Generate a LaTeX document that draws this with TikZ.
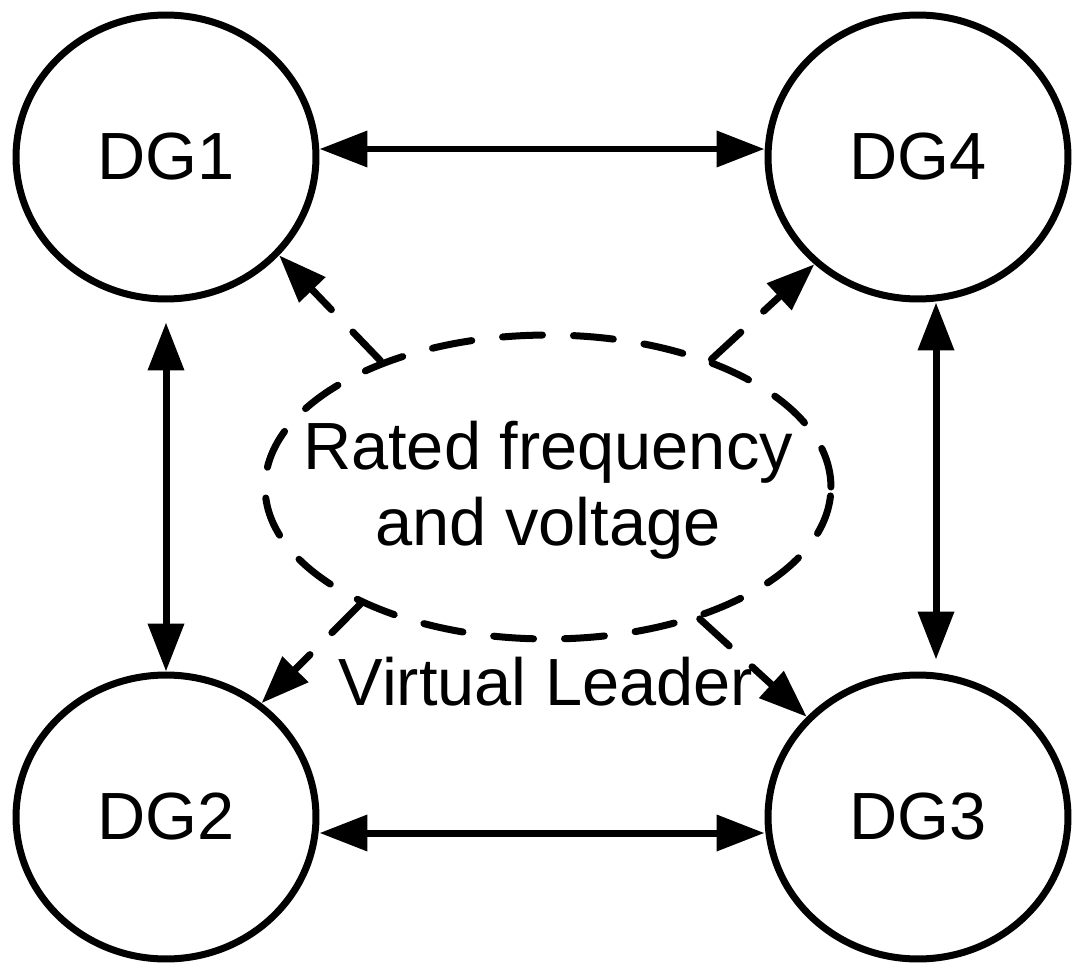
\documentclass[tikz,border=0pt]{standalone}
\usepackage{fontspec}
\setmainfont{Liberation Sans}
\usetikzlibrary{arrows.meta,shapes.geometric}

\begin{document}
\begin{tikzpicture}
[x=0.02cm, y=-0.02cm, line width=0.14cm,
>={Triangle[length=0.96cm, width=0.7cm]},
every node/.style={font=\fontsize{38}{43}\selectfont},
dg/.style={draw, ellipse, minimum width=6cm, minimum height=5.68cm, inner sep=0pt},
lead/.style={draw, ellipse, dash pattern=on 0.8cm off 0.62cm, line cap=round,
  minimum width=11.32cm, minimum height=6.08cm},
link/.style={<->},
vlink/.style={->, dash pattern=on 0.8cm off 0.62cm, line cap=round}
]
  \useasboundingbox (0,0) rectangle (1082,973);

  \node[dg] (DG1) at (166,157) {DG1};
  \node[dg] (DG4) at (918,157) {DG4};
  \node[dg] (DG2) at (166,817) {DG2};
  \node[dg] (DG3) at (918,817) {DG3};

  \node[lead] (vl) at (548,487) {};
  \node[align=center] (rated) at (548,490) {Rated frequency\\and voltage};
  \node[anchor=base] (vltext) at (546,705) {Virtual Leader};

  % links between the units
  \draw[link] ([yshift=0.16cm]DG1.east) -- ([yshift=0.16cm]DG4.west);
  \draw[link] ([yshift=-0.32cm]DG2.east) -- ([yshift=-0.32cm]DG3.west);
  \draw[link] ([yshift=-0.4cm]DG1.south) -- (DG2.north);
  \draw[link] ([xshift=0.36cm]DG4.south) -- ([xshift=0.36cm,yshift=0.24cm]DG3.north);

  % leader to the units
  \draw[vlink] (vl.143) -- (DG1.319);
  \draw[vlink] (vl.38) -- (DG4.226);
  \draw[vlink] (vl.212) -- (DG2.50);
  \draw[vlink] (vl.319) -- (DG3.138);
\end{tikzpicture}
\end{document}
